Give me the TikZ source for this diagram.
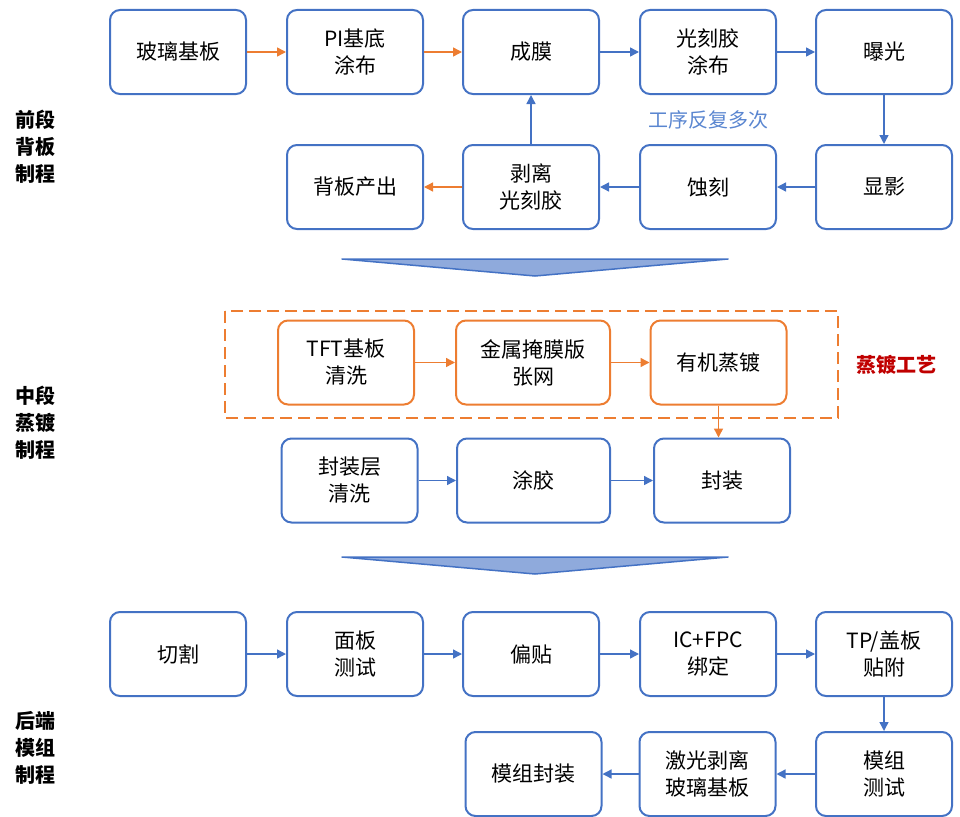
\documentclass[tikz,border=0pt]{standalone}
\usepackage{fontspec}
\setmainfont{Liberation Sans}
\newfontfamily\cjk{Noto Sans CJK SC}
\usetikzlibrary{arrows.meta}
\definecolor{bl}{HTML}{4472C4}
\definecolor{og}{HTML}{ED7D31}
\definecolor{rd}{HTML}{C00000}
\definecolor{tri}{HTML}{8FAADC}
\definecolor{lbl}{HTML}{5A86D0}
\begin{document}
\begin{tikzpicture}[x=1pt,y=-1pt,
  box/.style={draw=bl,line width=2pt,rounded corners=10pt,minimum width=136pt,minimum height=84pt,align=center,font=\fontsize{21}{27}\selectfont\cjk,inner sep=0pt},
  obox/.style={box,draw=og},
  arr/.style={draw=bl,line width=1.4pt,-{Triangle[length=9pt,width=9pt]}},
  oarr/.style={arr,draw=og},
  side/.style={font=\fontsize{20}{27}\selectfont\cjk\bfseries,align=left,inner sep=0pt}]
\useasboundingbox (0,0) rectangle (960,816);
% stage 1
\node[box] (a1) at (178,52) {玻璃基板};
\node[box] (a2) at (355,52) {PI基底\\涂布};
\node[box] (a3) at (531,52) {成膜};
\node[box] (a4) at (708,52) {光刻胶\\涂布};
\node[box] (a5) at (884,52) {曝光};
\node[box] (b1) at (355,187) {背板产出};
\node[box] (b2) at (531,187) {剥离\\光刻胶};
\node[box] (b3) at (708,187) {蚀刻};
\node[box] (b4) at (884,187) {显影};
\node[font=\fontsize{20}{24}\selectfont\cjk,text=lbl] (rep) at (708,120) {工序反复多次};
\draw[oarr] (a1) -- (a2);
\draw[oarr] (a2) -- (a3);
\draw[arr] (a3) -- (a4);
\draw[arr] (a4) -- (a5);
\draw[arr] (a5) -- (b4);
\draw[arr] (b4) -- (b3);
\draw[arr] (b3) -- (b2);
\draw[arr] (b2) -- (a3);
\draw[oarr] (b2) -- (b1);
\node[side] (s1) at (36,147) {前段\\背板\\制程};
% triangle 1
\draw[draw=bl,fill=tri,line width=1.5pt,line join=round] (342,259) -- (728,259) -- (535,276) -- cycle;
% stage 2
\draw[og,line width=2pt,dash pattern=on 12pt off 6pt] (225,311) rectangle (838,418);
\node[obox] (c1) at (346,362.5) {TFT基板\\清洗};
\node[obox,minimum width=154pt] (c2) at (533,362.5) {金属掩膜版\\张网};
\node[obox] (c3) at (718.5,362.5) {有机蒸镀};
\node[font=\fontsize{20}{24}\selectfont\cjk\bfseries,text=rd] (zd) at (896,365) {蒸镀工艺};
\node[box] (d1) at (349.5,480.5) {封装层\\清洗};
\node[box,minimum width=153pt] (d2) at (533.5,480.5) {涂胶};
\node[box] (d3) at (722,480.5) {封装};
\draw[oarr] (c1) -- (c2);
\draw[oarr] (c2) -- (c3);
\draw[oarr] (c3.south) -- (c3.south |- d3.north);
\draw[arr] (d1) -- (d2);
\draw[arr] (d2) -- (d3);
\node[side] (s2) at (36,423) {中段\\蒸镀\\制程};
% triangle 2
\draw[draw=bl,fill=tri,line width=1.5pt,line join=round] (342,557) -- (728,557) -- (535,574) -- cycle;
% stage 3
\node[box] (e1) at (178,654) {切割};
\node[box] (e2) at (355,654) {面板\\测试};
\node[box] (e3) at (531,654) {偏贴};
\node[box] (e4) at (708,654) {IC+FPC\\绑定};
\node[box] (e5) at (884,654) {TP/盖板\\贴附};
\node[box] (f1) at (533.5,774) {模组封装};
\node[box] (f2) at (707.5,774) {激光剥离\\玻璃基板};
\node[box] (f3) at (884,774) {模组\\测试};
\draw[arr] (e1) -- (e2);
\draw[arr] (e2) -- (e3);
\draw[arr] (e3) -- (e4);
\draw[arr] (e4) -- (e5);
\draw[arr] (e5) -- (f3);
\draw[arr] (f3) -- (f2);
\draw[arr] (f2) -- (f1);
\node[side] (s3) at (36,748) {后端\\模组\\制程};
\end{tikzpicture}
\end{document}
